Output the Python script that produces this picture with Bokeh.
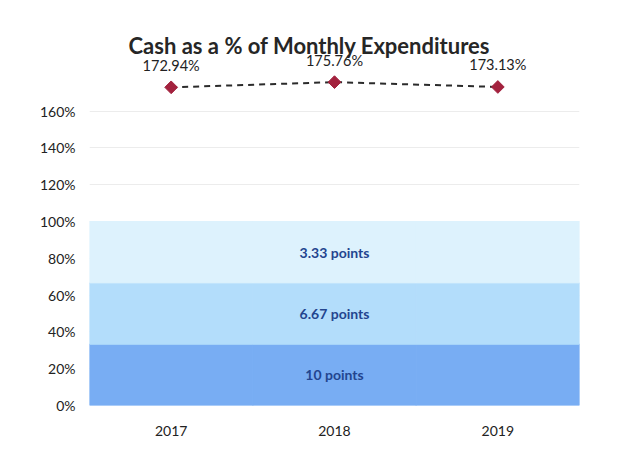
from bokeh.plotting import figure
from bokeh.models import Range1d, FactorRange, FixedTicker, Label, ColumnDataSource
from bokeh.core.properties import value
from bokeh.embed import file_html
from bokeh.resources import INLINE

# ---- data ----
years = ["2017", "2018", "2019"]
cash_pct = [172.94, 175.76, 173.13]
cash_labels = ["172.94%", "175.76%", "173.13%"]

band_names = ["b10", "b667", "b333"]
band_10 = [33.33, 33.33, 33.33]
band_667 = [33.34, 33.34, 33.34]
band_333 = [33.33, 33.33, 33.33]
band_labels = ["10 points", "6.67 points", "3.33 points"]
band_label_y = [16.665, 50.0, 83.335]
band_label_x = ["2018", "2018", "2018"]

y_ticks = [0, 20, 40, 60, 80, 100, 120, 140, 160]
y_tick_labels = ["0%", "20%", "40%", "60%", "80%", "100%", "120%", "140%", "160%"]

title_text = "Cash as a % of Monthly Expenditures"

FONT = "Lato"

p = figure(width=608, height=450, x_range=FactorRange(*years, range_padding=0),
           y_range=Range1d(0, 214.7), output_backend="svg", toolbar_location=None,
           min_border_left=89, min_border_right=29, min_border_top=10, min_border_bottom=45)
p.background_fill_color = "white"
p.border_fill_color = "white"
p.outline_line_color = None

# bands (stacked columns, gap 0)
src = ColumnDataSource(dict(x=years, b10=band_10, b667=band_667, b333=band_333))
p.vbar_stack(band_names, x="x", width=1.0, source=src,
             color=["#78adf3", "#b3ddfb", "#ddf2fd"], line_width=1)

# band labels
p.text(x=band_label_x, y=band_label_y, text=band_labels, text_align="center",
       text_baseline="middle", text_font=value(FONT), text_font_size="14px",
       text_font_style="bold", text_color="#23458f")

# cash line
p.line(x=years, y=cash_pct, line_color="#2b2b2b", line_width=2, line_dash="6 5")
p.scatter(x=years, y=cash_pct, marker="square", angle=0.785398, size=9,
          fill_color="#a3223e", line_color="#a3223e")
p.text(x=years, y=cash_pct, text=cash_labels, text_align="center", text_baseline="middle",
       y_offset=-22, text_font=value(FONT), text_font_size="14.5px", text_color="#222222")

# title
p.add_layout(Label(x=220, y=360, x_units="screen", y_units="screen", text=title_text,
                   text_align="center", text_baseline="middle", text_font=FONT,
                   text_font_size="22px", text_font_style="bold", text_color="#262626"))

# axes
p.yaxis.ticker = FixedTicker(ticks=y_ticks)
p.yaxis.major_label_overrides = {t: l for t, l in zip(y_ticks, y_tick_labels)}
for ax in (p.xaxis[0], p.yaxis[0]):
    ax.axis_line_color = None
    ax.major_tick_line_color = None
    ax.minor_tick_line_color = None
    ax.major_label_text_font = FONT
    ax.major_label_text_font_size = "14px"
    ax.major_label_text_color = "#222222"
p.yaxis.major_label_standoff = 8
p.xaxis.major_label_standoff = 14

p.xgrid.grid_line_color = None
p.ygrid.grid_line_color = "#ececec"
p.ygrid.level = "underlay"

open("out.html", "w").write(file_html(p, INLINE))
